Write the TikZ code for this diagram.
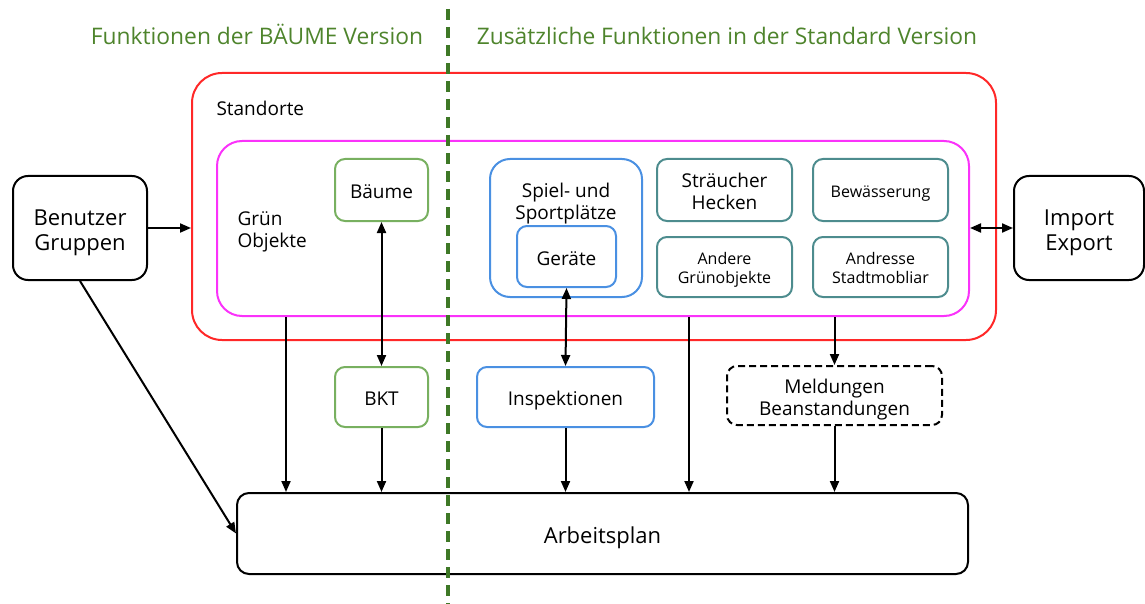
\documentclass[tikz,border=0pt]{standalone}
\usepackage{fontspec}
\setmainfont{Open Sans}
\usetikzlibrary{arrows.meta}
\definecolor{hdrgreen}{RGB}{78,132,44}
\definecolor{dashgreen}{RGB}{62,120,38}
\definecolor{redc}{RGB}{255,40,40}
\definecolor{magc}{RGB}{250,50,250}
\definecolor{grnc}{RGB}{120,176,96}
\definecolor{bluec}{RGB}{74,144,226}
\definecolor{tealc}{RGB}{77,140,142}
% struts that place the text a little lower in its box
\newcommand\zbt{\rule{0pt}{26pt}}
\newcommand\zbb{\rule[-6pt]{0pt}{6pt}}
\newcommand\zmt{\rule{0pt}{23pt}}
\newcommand\zmb{\rule[-5.2pt]{0pt}{5.2pt}}
\newcommand\zst{\rule{0pt}{19pt}}
\newcommand\zsb{\rule[-4.6pt]{0pt}{4.6pt}}
\tikzset{
  box/.style={draw, line width=2pt, rounded corners=10pt, inner sep=0pt, align=center},
  big/.style={font=\fontsize{22}{25}\selectfont},
  med/.style={font=\fontsize{19}{22}\selectfont},
  sml/.style={font=\fontsize{16}{19}\selectfont},
  hdr/.style={font=\fontsize{22.8}{25}\selectfont, text=hdrgreen, text height=17pt, text depth=5pt, inner sep=0pt},
  arr/.style={line width=2pt, -{Triangle[length=11pt,width=9pt]}},
  darr/.style={line width=2pt, {Triangle[length=11pt,width=9pt]}-{Triangle[length=11pt,width=9pt]}},
}
\begin{document}
\begin{tikzpicture}[x=1pt,y=-1pt]
\useasboundingbox (0,0) rectangle (1145,604);
% headers
\node[hdr] (h1) at (257,38.5) {Funktionen der BÄUME Version};
\node[hdr] (h2) at (727,38.5) {Zusätzliche Funktionen in der Standard Version};
% containers
\node[box, draw=redc, rounded corners=30pt, minimum width=804pt, minimum height=267pt] (standorte) at (594,206.5) {};
\node[box, draw=magc, rounded corners=25pt, minimum width=752pt, minimum height=175pt] (gruen) at (593,228.5) {};
\node[med, anchor=west] (stlabel) at (213,108) {Standorte};
\node[med, anchor=west, align=left] (grlabel) at (234,231.5) {Grün\\Objekte};
% inner boxes
\node[box, med, draw=grnc, minimum width=93pt, minimum height=62pt] (baeume) at (381.5,190) {\zmt Bäume\zmb};
\node[box, draw=bluec, rounded corners=20pt, minimum width=152pt, minimum height=138pt] (spiel) at (566,228) {};
\node[med, align=center] (spieltxt) at (566,204) {Spiel- und\\Sportplätze};
\node[box, med, draw=bluec, minimum width=99pt, minimum height=61pt] (geraete) at (566.5,256.5) {\zmt Geräte\zmb};
\node[box, med, draw=tealc, minimum width=135pt, minimum height=62pt] (straeucher) at (724.5,190) {\zmt Sträucher\\Hecken\zmb};
\node[box, sml, draw=tealc, minimum width=135pt, minimum height=62pt] (bewaess) at (880.5,190) {\zst Bewässerung\zsb};
\node[box, sml, draw=tealc, minimum width=135pt, minimum height=60pt] (andere) at (724.5,267) {\zst Andere\\Grünobjekte\zsb};
\node[box, sml, draw=tealc, minimum width=135pt, minimum height=60pt] (adresse) at (880.5,267) {\zst Andresse\\Stadtmobliar\zsb};
% outer boxes
\node[box, big, draw=black, rounded corners=15pt, minimum width=134pt, minimum height=104pt] (benutzer) at (80,228) {\zbt Benutzer\\Gruppen\zbb};
\node[box, big, draw=black, rounded corners=15pt, minimum width=130pt, minimum height=104pt] (import) at (1079,228) {\zbt Import\\Export\zbb};
\node[box, med, draw=grnc, minimum width=93pt, minimum height=60pt] (bkt) at (381.5,397) {\zmt BKT\zmb};
\node[box, med, draw=bluec, minimum width=177pt, minimum height=60pt] (insp) at (565.5,397) {\zmt Inspektionen\zmb};
\node[box, med, draw=black, dash pattern=on 7pt off 4pt, minimum width=215pt, minimum height=59pt] (meld) at (834.5,395.5) {\zmt Meldungen\\Beanstandungen\zmb};
\node[box, big, draw=black, rounded corners=12pt, minimum width=731pt, minimum height=81pt] (arbeit) at (602.5,533.5) {\zbt Arbeitsplan\zbb};
% connectors
\coordinate (xl) at (286,0);
\coordinate (xr) at (689,0);
\draw[arr] (benutzer.east) -- (benutzer.east -| standorte.west);
\draw[arr] (benutzer.south) -- (arbeit.west);
\draw[darr] (import.west) -- (import.west -| gruen.east);
\draw[darr] (baeume.south) -- (bkt.north);
\draw[darr] (geraete.south) -- (insp.north);
\draw[arr] (bkt.south) -- (bkt.south |- arbeit.north);
\draw[arr] (insp.south) -- (insp.south |- arbeit.north);
\draw[arr] (gruen.south -| xl) -- (arbeit.north -| xl);
\draw[arr] (gruen.south -| xr) -- (arbeit.north -| xr);
\draw[arr] (meld.north |- gruen.south) -- (meld.north);
\draw[arr] (meld.south) -- (meld.south |- arbeit.north);
% divider
\coordinate (dtop) at (448,9);
\coordinate (dbot) at (448,604);
\draw[dashgreen, line width=3.4pt, dash pattern=on 11pt off 7pt] (dtop) -- (dbot);
\end{tikzpicture}
\end{document}
